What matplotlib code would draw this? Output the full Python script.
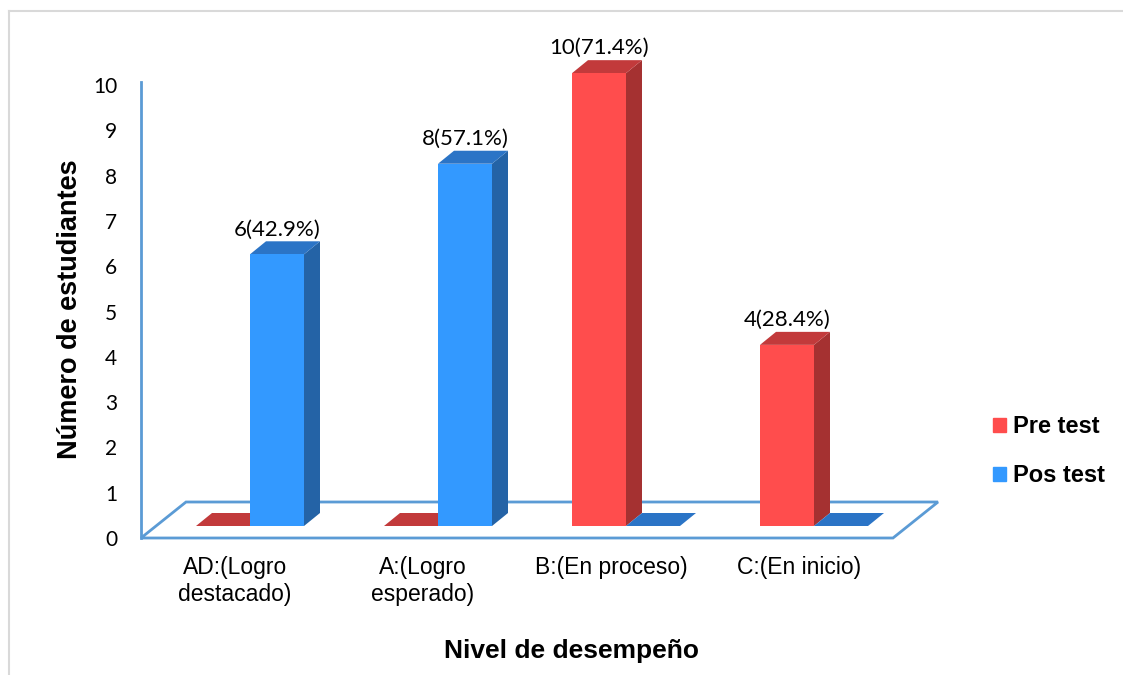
import matplotlib.pyplot as plt
import matplotlib.patches as mpatches
from matplotlib.lines import Line2D
import numpy as np

categories = ['AD:(Logro\ndestacado)', 'A:(Logro\nesperado)', 'B:(En proceso)', 'C:(En inicio)']
pre_test = [0, 0, 10, 4]
pos_test = [6, 8, 0, 0]
pre_pct = [None, None, 71.4, 28.4]
pos_pct = [42.9, 57.1, None, None]
series_names = ['Pre test', 'Pos test']

# colours: front, side, top
red = ['#FF4D4D', '#A53131', '#C23A3B']
blue = ['#3399FF', '#2463A6', '#2B74C6']
floor_col = '#5B9BD5'

fig = plt.figure(figsize=(11.23, 6.75), dpi=100)
ax = fig.add_axes([141/1123, 1-538/675, 752/1123, 456/675])
ax.set_xlim(-0.5, 3.5)
ax.set_ylim(0, 10.07)

# px -> data units
ux = 752/4.0
uy = 456/10.07
w = 54/ux              # bar width
bx, by = 15/ux, 12/uy  # bars sit inside the floor
dx, dy = 16/ux, 13/uy  # bar depth
fx, fy = 45/ux, 36/uy  # floor depth

floor = mpatches.Polygon([(-0.5, 0), (3.5, 0), (3.5+fx, fy), (-0.5+fx, fy)],
                         closed=True, fill=False, edgecolor=floor_col, lw=2, clip_on=False)
ax.add_patch(floor)


def bar3d(x0, v, cols):
    y0 = by
    xl = x0 + bx
    # side
    if v > 0:
        ax.add_patch(mpatches.Polygon([(xl+w, y0), (xl+w+dx, y0+dy), (xl+w+dx, y0+v+dy), (xl+w, y0+v)],
                                      closed=True, facecolor=cols[1], lw=0, clip_on=False))
    # top
    ax.add_patch(mpatches.Polygon([(xl, y0+v), (xl+w, y0+v), (xl+w+dx, y0+v+dy), (xl+dx, y0+v+dy)],
                                  closed=True, facecolor=cols[2], lw=0, clip_on=False))
    if v > 0:
        ax.bar(xl, v, width=w, bottom=y0, align='edge', color=cols[0], lw=0, clip_on=False)


x = np.arange(len(categories))
for i in x:
    bar3d(i - w, pre_test[i], red)
    bar3d(i, pos_test[i], blue)

for i in x:
    for vals, pcts, off in [(pre_test, pre_pct, -w/2), (pos_test, pos_pct, w/2)]:
        if pcts[i] is not None:
            ax.text(i + off + bx, vals[i] + by + dy + 0.04, f'{vals[i]}({pcts[i]}%)',
                    ha='center', va='bottom', fontsize=16, family='Lato', color='black')

for s in ['top', 'right', 'bottom']:
    ax.spines[s].set_visible(False)
ax.spines['left'].set_color(floor_col)
ax.spines['left'].set_linewidth(2)
ax.set_yticks(range(0, 11))
ax.tick_params(axis='y', length=0, pad=17, labelsize=15)
for t in ax.get_yticklabels():
    t.set_family('Lato')
ax.set_xticks(x)
ax.set_xticklabels(categories, fontsize=16.5, family='Liberation Sans', linespacing=1.2)
ax.tick_params(axis='x', length=0, pad=13)
ax.patch.set_alpha(0)

fig.text(70/1123, 1-309/675, 'Número de estudiantes', rotation=90, ha='center', va='center',
         fontsize=19.5, fontweight='bold', family='Liberation Sans')
fig.text(572/1123, 1-651/675, 'Nivel de desempeño', ha='center', va='center',
         fontsize=19, fontweight='bold', family='Liberation Sans')

handles = [mpatches.Patch(color=red[0]), mpatches.Patch(color=blue[0])]
fig.legend(handles, series_names, loc='center left', bbox_to_anchor=(972/1123, 1-451/675),
           frameon=False, handlelength=0.55, handleheight=0.55, handletextpad=0.3,
           labelspacing=1.1, prop={'family': 'Liberation Sans', 'weight': 'bold', 'size': 17})

# outer frame
fig.add_artist(Line2D([9/1123, 1], [1-11/675, 1-11/675], color='#D9D9D9', lw=1.5))
fig.add_artist(Line2D([9/1123, 9/1123], [0, 1-11/675], color='#D9D9D9', lw=1.5))

fig.savefig('out.png', dpi=100)
